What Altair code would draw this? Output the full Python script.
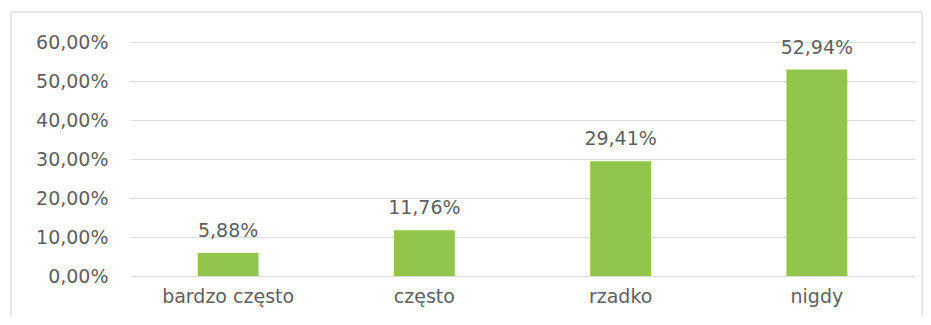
import altair as alt
import pandas as pd

categories = ["bardzo często", "często", "rzadko", "nigdy"]
values = [0.0588, 0.1176, 0.2941, 0.5294]
y_ticks = [0, 0.1, 0.2, 0.3, 0.4, 0.5, 0.6]

df = pd.DataFrame({"kat": categories, "val": values})

FONT = "DejaVu Sans"
TXT = "#5f5f5f"
FS = 19

x = alt.X("kat:N", sort=categories, title=None,
          scale=alt.Scale(paddingInner=0.69, paddingOuter=0.345),
          axis=alt.Axis(labelAngle=0, labelFontSize=FS, labelColor=TXT, labelFont=FONT,
                        labelPadding=11, ticks=False, domain=False, grid=False, labelOverlap=False))
y = alt.Y("val:Q", title=None,
          scale=alt.Scale(domain=[0, 0.6], nice=False),
          axis=alt.Axis(values=y_ticks, labelExpr="replace(format(datum.value, '.2%'), '.', ',')",
                        labelFontSize=FS, labelColor=TXT, labelFont=FONT, labelPadding=22,
                        labelOverlap=False, labelBound=False, labelFlush=False,
                        ticks=False, domain=False, grid=True, gridColor="#dcdcdc", gridWidth=1))

base = alt.Chart(df)

bars = base.mark_bar(color="#92c54c").encode(x=x, y=y)

labels = base.transform_calculate(
    lab="replace(format(datum.val, '.2%'), '.', ',')"
).mark_text(baseline="alphabetic", dy=-16, fontSize=FS, color=TXT, font=FONT).encode(
    x=x, y=y, text="lab:N")

frame = alt.Chart(df).mark_rect(fill=None, stroke="#e6e6e6", strokeWidth=1, clip=False).encode(
    x=alt.value(-119), x2=alt.value(792), y=alt.value(-30), y2=alt.value(300))

chart = alt.layer(bars, labels, frame).properties(
    width=785, height=234,
    background="white",
    autosize=alt.AutoSizeParams(type="none"),
    padding={"left": 122, "top": 34, "right": 8, "bottom": 41},
).configure_view(stroke=None, strokeWidth=0)

chart.save("out.html", embed_options={"renderer": "svg", "actions": False})
